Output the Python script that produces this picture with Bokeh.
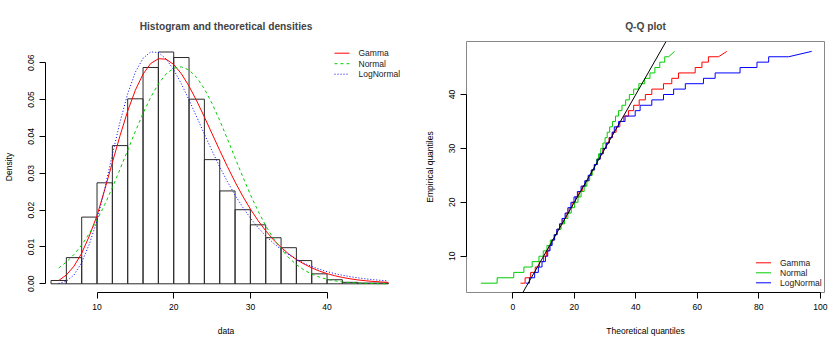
from bokeh.plotting import figure
from bokeh.layouts import row
from bokeh.models import (FixedTicker, PrintfTickFormatter, Slope, Range1d, Arrow, Label)
from bokeh.embed import file_html
from bokeh.resources import INLINE

FONT = "Liberation Sans"
FS = "8.5px"

# ---------------- data: histogram + densities ----------------
hist_breaks = [4, 6, 8, 10, 12, 14, 16, 18, 20, 22, 24, 26, 28, 30, 32, 34, 36, 38, 40, 42, 44, 46, 48]
hist_density = [0.0009, 0.0071, 0.0181, 0.0274, 0.0375, 0.0502, 0.0587, 0.0629, 0.0614, 0.0501,
                0.0337, 0.0252, 0.0201, 0.0160, 0.0125, 0.0098, 0.0063, 0.0027, 0.0011, 0.0004,
                0.0002, 0.0002]

dens_x = [5, 6, 7, 8, 9, 10, 11, 12, 13, 14, 15, 16, 17, 18, 19, 20, 21, 22, 23, 24, 25, 26,
          27, 28, 29, 30, 31, 32, 33, 34, 35, 36, 37, 38, 39, 40, 41, 42, 43, 44, 45, 46, 47, 48]
dens_gamma = [0.0009, 0.0024, 0.0048, 0.0083, 0.0130, 0.01852, 0.02550, 0.03290, 0.04018, 0.04689,
              0.05255, 0.05689, 0.05978, 0.06108, 0.06095, 0.05952, 0.05700, 0.05362, 0.04963,
              0.04527, 0.04074, 0.03621, 0.03182, 0.02764, 0.02379, 0.02029, 0.01715, 0.01438,
              0.01196, 0.00988, 0.00810, 0.00661, 0.00536, 0.00432, 0.00346, 0.00276, 0.00219,
              0.00173, 0.00136, 0.00106, 0.00083, 0.00065, 0.00050, 0.00038]
dens_normal = [0.00428, 0.00590, 0.00797, 0.01054, 0.01364, 0.01730, 0.02148, 0.02611, 0.03109,
               0.03624, 0.04137, 0.04624, 0.05061, 0.05424, 0.05693, 0.05850, 0.05888, 0.05802,
               0.05598, 0.05289, 0.04894, 0.04434, 0.03933, 0.03417, 0.02907, 0.02421, 0.01974,
               0.01577, 0.01233, 0.00945, 0.00709, 0.00520, 0.00374, 0.00263, 0.00181, 0.00122,
               0.00081, 0.00052, 0.00033, 0.00021, 0.00013, 0.00007, 0.00004, 0.00002]
dens_lognormal = [0.00008, 0.0007, 0.0024, 0.0058, 0.0108, 0.01710, 0.02577, 0.03504, 0.04392,
                  0.05158, 0.05743, 0.06121, 0.06292, 0.06276, 0.06102, 0.05807, 0.05426, 0.04990,
                  0.04528, 0.04061, 0.03606, 0.03175, 0.02774, 0.02408, 0.02078, 0.01784, 0.01526,
                  0.01300, 0.01104, 0.00934, 0.00789, 0.00665, 0.00560, 0.00470, 0.00394, 0.00330,
                  0.00277, 0.00232, 0.00194, 0.00162, 0.00135, 0.00113, 0.00094, 0.00079]

# ---------------- data: Q-Q plot ----------------
# empirical quantile levels
qq_levels = [5, 6, 7, 8, 9, 10, 11, 12, 13, 14, 15, 16, 17, 18, 19, 20, 21, 22, 23, 24, 25, 26,
             27, 28, 29, 30, 31, 32, 33, 34, 35, 36, 37, 38, 39, 40, 41, 42, 43, 44, 45, 46, 47, 48]
# theoretical quantiles: first value, then where each level (5..47) ends, then last value
qq_gamma = [2.5, 4.0, 5.8, 7.3, 8.6, 10.0, 10.9, 11.8, 12.6, 13.5, 14.4, 15.3, 16.3, 17.3, 18.3,
            19.3, 20.4, 21.5, 22.6, 23.7, 24.8, 25.7, 26.6, 27.5, 28.4, 29.3, 30.3, 31.3, 32.4,
            33.6, 34.8, 36.1, 37.6, 39.3, 41.1, 43.1, 45.2, 49.0, 51.7, 53.9, 59.3, 61.5, 63.6,
            66.9, 69.6]
qq_normal = [-10.4, -5.1, 0.3, 3.6, 6.3, 8.5, 9.9, 11.1, 12.2, 13.4, 14.5, 15.7, 16.8, 17.9, 19.0,
             20.1, 21.2, 22.2, 23.2, 24.1, 25.0, 25.8, 26.5, 27.2, 27.9, 28.6, 29.3, 30.0, 30.7,
             31.5, 32.4, 33.4, 34.4, 35.5, 36.7, 37.9, 39.3, 41.0, 42.9, 44.6, 46.2, 47.8, 49.4,
             50.7, 52.6]
qq_lognormal = [4.2, 5.4, 7.1, 8.3, 9.5, 10.6, 11.35, 12.1, 12.8, 13.6, 14.3, 15.2, 16.0, 17.0,
                17.9, 18.9, 19.9, 21.0, 22.2, 23.4, 24.5, 25.5, 26.5, 27.4, 28.4, 29.4, 30.4, 31.4,
                32.3, 33.0, 34.4, 36.5, 39.8, 41.4, 45.2, 49.0, 52.3, 56.1, 62.0, 65.8, 73.9, 79.4,
                83.2, 89.7, 97.2]

fit_names = ["Gamma", "Normal", "LogNormal"]
fit_colors = ["#FF0000", "#00CD00", "#0000FF"]
dens_dashes = ["solid", "3 3", "1 2"]


def qq_path(q):
    xs, ys = [q[0]], [qq_levels[0]]
    n = len(qq_levels)
    for i in range(n - 1):
        xs.append(q[i + 1]); ys.append(qq_levels[i])
        if i < n - 2:
            xs.append(q[i + 1]); ys.append(qq_levels[i + 1])
    xs.append(q[-1]); ys.append(qq_levels[-1])
    return xs, ys


def style(p):
    p.title.align = "center"
    p.title.text_font = FONT
    p.title.text_font_size = "10.2px"
    p.title.text_font_style = "bold"
    p.title.standoff = 20
    p.grid.visible = False
    p.background_fill_color = "white"
    p.border_fill_color = "white"
    for ax in p.axis:
        ax.axis_line_color = "black"
        ax.major_tick_line_color = "black"
        ax.minor_tick_line_color = None
        ax.major_tick_in = 0
        ax.major_tick_out = 6
        ax.major_label_text_font = FONT
        ax.major_label_text_font_size = FS
        ax.major_label_text_color = "black"
        ax.axis_label_text_font = FONT
        ax.axis_label_text_font_size = FS
        ax.axis_label_text_font_style = "normal"
        ax.axis_label_text_color = "black"
    p.xaxis.major_label_standoff = 5
    p.xaxis.axis_label_standoff = 13
    p.yaxis.major_label_orientation = "vertical"
    p.yaxis.major_label_standoff = 5
    p.yaxis.axis_label_standoff = 12


def manual_legend(p, x0, y_top, dy, dashes):
    # legend drawn in screen units relative to the plot frame (x from left, y from bottom)
    for i, (name, color, dash) in enumerate(zip(fit_names, fit_colors, dashes)):
        y = y_top - i * dy
        p.add_layout(Arrow(end=None, x_start=x0, y_start=y, x_end=x0 + 15, y_end=y,
                           start_units="screen", end_units="screen",
                           line_color=color, line_width=1, line_dash=dash))
        p.add_layout(Label(x=x0 + 24, y=y, x_units="screen", y_units="screen", text=name,
                           text_font=FONT, text_font_size=FS, text_baseline="middle",
                           text_color="#1a1a1a"))


# ---------------- left: histogram ----------------
p1 = figure(width=418, height=341, x_range=Range1d(3.28, 50.36), y_range=Range1d(-0.00236, 0.06575),
            output_backend="svg", toolbar_location=None, title="Histogram and theoretical densities",
            min_border_left=44, min_border_right=12, min_border_top=41, min_border_bottom=49)
p1.outline_line_color = None
p1.quad(left=hist_breaks[:-1], right=hist_breaks[1:], bottom=0, top=hist_density,
        fill_color=None, line_color="#2a2a2a", line_width=1)
for ys, c, d in zip([dens_gamma, dens_normal, dens_lognormal], fit_colors, dens_dashes):
    p1.line(dens_x, ys, line_color=c, line_width=1, line_dash=d)
style(p1)
p1.title.offset = -3
p1.xaxis.ticker = FixedTicker(ticks=[10, 20, 30, 40])
p1.xaxis.bounds = (10, 40)
p1.yaxis.ticker = FixedTicker(ticks=[0, 0.01, 0.02, 0.03, 0.04, 0.05, 0.06])
p1.yaxis.bounds = (0, 0.06)
p1.yaxis.formatter = PrintfTickFormatter(format="%.2f")
p1.xaxis.axis_label = "data"
p1.yaxis.axis_label = "Density"
manual_legend(p1, 289, 239.3, 10.5, dens_dashes)

# ---------------- right: Q-Q plot ----------------
p2 = figure(width=418, height=341, x_range=Range1d(-15.06, 101.36), y_range=Range1d(3.27, 49.83),
            output_backend="svg", toolbar_location=None, title="Q-Q plot",
            min_border_left=48, min_border_right=12, min_border_top=41, min_border_bottom=49)
p2.outline_line_color = "#888888"
for q, c in zip([qq_gamma, qq_normal, qq_lognormal], fit_colors):
    xs, ys = qq_path(q)
    p2.line(xs, ys, line_color=c, line_width=1)
p2.add_layout(Slope(gradient=1, y_intercept=0, line_color="black", line_width=1))
style(p2)
p2.xaxis.ticker = FixedTicker(ticks=[0, 20, 40, 60, 80, 100])
p2.xaxis.bounds = (0, 100)
p2.yaxis.ticker = FixedTicker(ticks=[10, 20, 30, 40])
p2.yaxis.bounds = (10, 40)
p2.xaxis.axis_label = "Theoretical quantiles"
p2.yaxis.axis_label = "Empirical quantiles"
manual_legend(p2, 289.5, 29.7, 10.0, ["solid", "solid", "solid"])

layout = row(p1, p2)
open("out.html", "w").write(file_html(layout, INLINE))
